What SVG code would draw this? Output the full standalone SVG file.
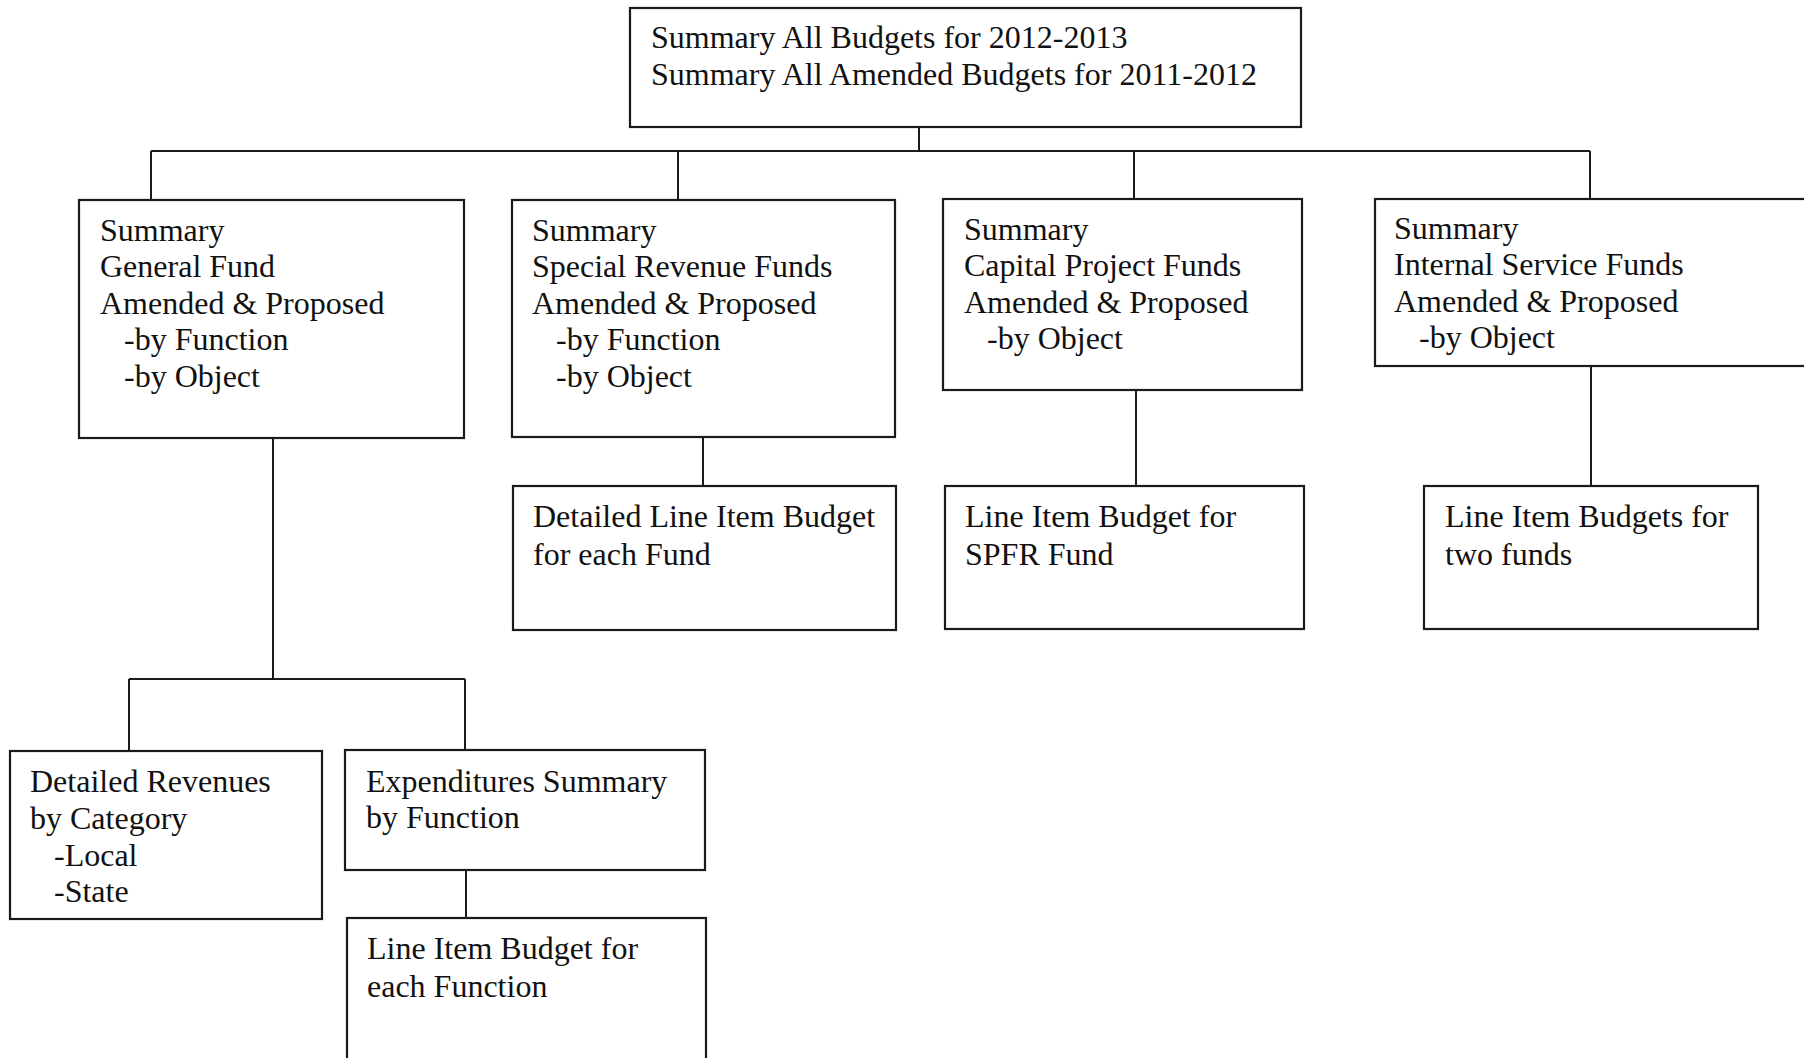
<svg xmlns="http://www.w3.org/2000/svg" width="1804" height="1058" viewBox="0 0 1804 1058">
<style>
.box{fill:#fff;stroke:#1a1a1a;stroke-width:2.2}
.ln{fill:none;stroke:#1a1a1a;stroke-width:2}
text{font-family:"Liberation Serif","Times New Roman",serif;font-size:32px;fill:#111}
</style>
<rect width="1804" height="1058" fill="#fff"/>
<g id="connectors">
<path class="ln" d="M919 127V151M151 151H1590M151 151V200M678 151V200M1134 151V199M1590 151V199"/>
<path class="ln" d="M703 437V486M1136 390V486M1591 366V486"/>
<path class="ln" d="M273 438V679M129 679H465M129 679V751M465 679V750M466 870V918"/>
</g>
<g id="top">
<rect class="box" x="630" y="8" width="671" height="119"/>
<text x="651" y="48">Summary All Budgets for 2012-2013</text>
<text x="651" y="85">Summary All Amended Budgets for 2011-2012</text>
</g>
<g id="general">
<rect class="box" x="79" y="200" width="385" height="238"/>
<text x="100" y="241">Summary</text>
<text x="100" y="277">General Fund</text>
<text x="100" y="314">Amended &amp; Proposed</text>
<text x="124" y="350">-by Function</text>
<text x="124" y="387">-by Object</text>
</g>
<g id="special">
<rect class="box" x="512" y="200" width="383" height="237"/>
<text x="532" y="241">Summary</text>
<text x="532" y="277">Special Revenue Funds</text>
<text x="532" y="314">Amended &amp; Proposed</text>
<text x="556" y="350">-by Function</text>
<text x="556" y="387">-by Object</text>
</g>
<g id="capital">
<rect class="box" x="943" y="199" width="359" height="191"/>
<text x="964" y="240">Summary</text>
<text x="964" y="276">Capital Project Funds</text>
<text x="964" y="313">Amended &amp; Proposed</text>
<text x="987" y="349">-by Object</text>
</g>
<g id="internal">
<rect class="box" x="1375" y="199" width="440" height="167"/>
<text x="1394" y="239">Summary</text>
<text x="1394" y="275">Internal Service Funds</text>
<text x="1394" y="312">Amended &amp; Proposed</text>
<text x="1419" y="348">-by Object</text>
</g>
<g id="special-detail">
<rect class="box" x="513" y="486" width="383" height="144"/>
<text x="533" y="527">Detailed Line Item Budget</text>
<text x="533" y="565">for each Fund</text>
</g>
<g id="capital-detail">
<rect class="box" x="945" y="486" width="359" height="143"/>
<text x="965" y="527">Line Item Budget for</text>
<text x="965" y="565">SPFR Fund</text>
</g>
<g id="internal-detail">
<rect class="box" x="1424" y="486" width="334" height="143"/>
<text x="1445" y="527">Line Item Budgets for</text>
<text x="1445" y="565">two funds</text>
</g>
<g id="revenues">
<rect class="box" x="10" y="751" width="312" height="168"/>
<text x="30" y="792">Detailed Revenues</text>
<text x="30" y="829">by Category</text>
<text x="54" y="866">-Local</text>
<text x="54" y="902">-State</text>
</g>
<g id="expenditures">
<rect class="box" x="345" y="750" width="360" height="120"/>
<text x="366" y="792">Expenditures Summary</text>
<text x="366" y="828">by Function</text>
</g>
<g id="function-detail">
<rect class="box" x="347" y="918" width="359" height="160"/>
<text x="367" y="959">Line Item Budget for</text>
<text x="367" y="997">each Function</text>
</g>
</svg>
